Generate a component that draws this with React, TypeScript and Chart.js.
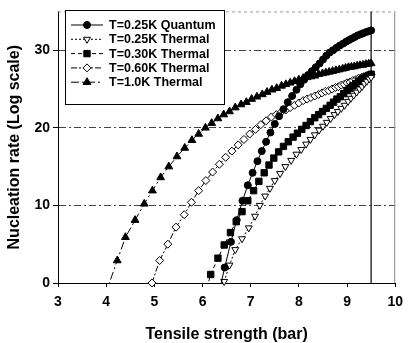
import React, { useEffect, useRef } from 'react';
import { Chart, registerables } from 'chart.js';

Chart.register(...registerables);

const FONT = "'Liberation Sans', Arial, Helvetica, sans-serif";

// T=0.25K Quantum (filled circles)
const xQuantum = [6.33, 6.46, 6.59, 6.71, 6.83, 6.94, 7.04, 7.14, 7.23, 7.32, 7.41, 7.5, 7.59, 7.68, 7.77, 7.86, 7.95, 8.03, 8.11, 8.19, 8.27, 8.35, 8.43, 8.5, 8.57, 8.64, 8.71, 8.78, 8.85, 8.92, 8.98, 9.04, 9.1, 9.16, 9.22, 9.28, 9.34, 9.4, 9.45, 9.5];
const yQuantum = [-1.6, 2.0, 5.3, 8.1, 10.6, 12.6, 14.2, 15.7, 17.0, 18.2, 19.4, 20.5, 21.5, 22.4, 23.3, 24.1, 24.9, 25.6, 26.2, 26.8, 27.3, 27.8, 28.3, 28.8, 29.3, 29.7, 30.0, 30.3, 30.6, 30.85, 31.1, 31.3, 31.5, 31.7, 31.9, 32.05, 32.2, 32.35, 32.45, 32.55];

// T=0.25K Thermal (open down-triangles)
const xThermal025 = [6.45, 6.56, 6.68, 6.82, 6.96, 7.09, 7.19, 7.3, 7.4, 7.5, 7.61, 7.72, 7.84, 7.95, 8.05, 8.15, 8.24, 8.33, 8.42, 8.5, 8.58, 8.66, 8.74, 8.81, 8.88, 8.95, 9.02, 9.08, 9.14, 9.2, 9.26, 9.31, 9.36, 9.41, 9.46, 9.5];
const yThermal025 = [0.2, 2.3, 4.3, 5.7, 7.1, 8.6, 10.0, 11.2, 12.2, 13.2, 14.1, 15.0, 15.8, 16.6, 17.2, 17.9, 18.5, 19.1, 19.7, 20.2, 20.7, 21.2, 21.7, 22.1, 22.5, 22.9, 23.4, 23.8, 24.2, 24.6, 25.0, 25.3, 25.7, 26.0, 26.3, 26.5];

// T=0.30K Thermal (filled squares)
const xThermal030 = [6.05, 6.17, 6.32, 6.45, 6.58, 6.7, 6.82, 6.94, 7.06, 7.17, 7.28, 7.38, 7.48, 7.58, 7.68, 7.78, 7.88, 7.97, 8.06, 8.15, 8.24, 8.33, 8.41, 8.49, 8.57, 8.65, 8.72, 8.79, 8.86, 8.93, 9.0, 9.06, 9.12, 9.18, 9.24, 9.3, 9.35, 9.4, 9.45, 9.5];
const yThermal030 = [-1.5, 1.1, 3.2, 4.9, 6.5, 7.9, 9.2, 10.6, 11.9, 13.1, 14.2, 15.2, 16.1, 16.9, 17.6, 18.2, 18.8, 19.3, 19.8, 20.3, 20.8, 21.3, 21.7, 22.1, 22.5, 22.9, 23.3, 23.7, 24.0, 24.4, 24.8, 25.1, 25.4, 25.7, 26.0, 26.2, 26.4, 26.6, 26.75, 26.9];

// T=0.60K Thermal (open diamonds)
const xThermal060 = [4.95, 5.11, 5.28, 5.45, 5.62, 5.77, 5.92, 6.07, 6.21, 6.35, 6.48, 6.61, 6.74, 6.86, 6.98, 7.1, 7.21, 7.32, 7.43, 7.53, 7.63, 7.73, 7.82, 7.91, 8.0, 8.09, 8.17, 8.25, 8.33, 8.41, 8.48, 8.55, 8.62, 8.69, 8.76, 8.82, 8.88, 8.94, 9.0, 9.06, 9.12, 9.18, 9.24, 9.3, 9.35, 9.4, 9.45, 9.5];
const yThermal060 = [0, 2.9, 5.0, 7.2, 8.8, 10.4, 11.9, 13.2, 14.3, 15.3, 16.2, 17.0, 17.8, 18.5, 19.2, 19.8, 20.4, 20.9, 21.4, 21.7, 22.0, 22.3, 22.6, 22.9, 23.2, 23.5, 23.7, 23.9, 24.1, 24.3, 24.5, 24.7, 24.8, 25.0, 25.2, 25.3, 25.5, 25.6, 25.8, 25.9, 26.1, 26.2, 26.4, 26.5, 26.6, 26.7, 26.8, 26.9];

// T=1.0K Thermal (filled up-triangles)
const xThermal100 = [3.98, 4.23, 4.4, 4.6, 4.79, 4.96, 5.13, 5.3, 5.47, 5.63, 5.78, 5.92, 6.06, 6.19, 6.32, 6.44, 6.56, 6.68, 6.8, 6.91, 7.02, 7.13, 7.24, 7.34, 7.44, 7.54, 7.64, 7.73, 7.82, 7.91, 8.0, 8.09, 8.17, 8.25, 8.33, 8.41, 8.49, 8.56, 8.63, 8.7, 8.77, 8.84, 8.91, 8.97, 9.03, 9.09, 9.15, 9.21, 9.27, 9.33, 9.39, 9.45, 9.5];
const yThermal100 = [-1.5, 2.9, 5.9, 8.1, 10.2, 11.9, 13.6, 15.0, 16.3, 17.4, 18.4, 19.2, 20.0, 20.6, 21.2, 21.7, 22.1, 22.6, 23.0, 23.3, 23.7, 24.0, 24.3, 24.6, 24.9, 25.1, 25.4, 25.6, 25.8, 26.0, 26.2, 26.4, 26.5, 26.6, 26.7, 26.9, 27.0, 27.1, 27.2, 27.3, 27.4, 27.5, 27.6, 27.7, 27.8, 27.85, 27.9, 28.0, 28.05, 28.1, 28.2, 28.25, 28.3];

const seriesLabels = ['T=0.25K Quantum', 'T=0.25K Thermal', 'T=0.30K Thermal', 'T=0.60K Thermal', 'T=1.0K Thermal'];
const limitX = [9.5, 9.5];
const limitY = [0, 35];

const X_MIN = 3, X_MAX = 10, Y_MIN = 0, Y_MAX = 35;

const pts = (xs: number[], ys: number[]) => xs.map((x, i) => ({ x, y: ys[i] }));

function drawMarker(ctx: CanvasRenderingContext2D, style: string, rot: number, x: number, y: number, r: number) {
  ctx.beginPath();
  if (style === 'circle') {
    ctx.arc(x, y, r, 0, Math.PI * 2);
  } else if (style === 'rect') {
    const s = r * Math.SQRT1_2;
    ctx.rect(x - s, y - s, 2 * s, 2 * s);
  } else if (style === 'rectRot') {
    ctx.moveTo(x - r, y); ctx.lineTo(x, y - r); ctx.lineTo(x + r, y); ctx.lineTo(x, y + r); ctx.closePath();
  } else if (style === 'triangle') {
    let a = (rot * Math.PI) / 180;
    ctx.moveTo(x + Math.sin(a) * r, y - Math.cos(a) * r);
    a += (2 * Math.PI) / 3;
    ctx.lineTo(x + Math.sin(a) * r, y - Math.cos(a) * r);
    a += (2 * Math.PI) / 3;
    ctx.lineTo(x + Math.sin(a) * r, y - Math.cos(a) * r);
    ctx.closePath();
  }
  ctx.fill();
  ctx.stroke();
}

const framePlugin = {
  id: 'frame',
  beforeDatasetsDraw(chart: any) {
    const { ctx, chartArea: a } = chart;
    ctx.save();
    ctx.lineWidth = 1;
    ctx.strokeStyle = '#9a9a9a';
    ctx.setLineDash([3, 3]);
    ctx.beginPath();
    ctx.moveTo(a.left, a.top + 0.5);
    ctx.lineTo(a.right, a.top + 0.5);
    ctx.stroke();
    ctx.setLineDash([]);
    ctx.strokeStyle = '#8a8a8a';
    ctx.beginPath();
    ctx.moveTo(a.right - 0.5, a.top);
    ctx.lineTo(a.right - 0.5, a.bottom);
    ctx.stroke();
    ctx.restore();
  },
};

const legendPlugin = {
  id: 'insideLegend',
  afterDraw(chart: any) {
    const ctx: CanvasRenderingContext2D = chart.ctx;
    const bx = 65.5, by = 10.5, bw = 159, bh = 94;
    ctx.save();
    ctx.fillStyle = '#fff';
    ctx.fillRect(bx, by, bw, bh);
    ctx.strokeStyle = '#000';
    ctx.lineWidth = 1;
    ctx.setLineDash([]);
    ctx.strokeRect(bx, by, bw, bh);
    const sets = chart.data.datasets.filter((d: any) => d.label);
    sets.forEach((d: any, i: number) => {
      const y = 25 + i * 14.3;
      ctx.strokeStyle = '#000';
      ctx.lineWidth = 1;
      ctx.setLineDash(d.borderDash || []);
      ctx.beginPath();
      ctx.moveTo(71, y);
      ctx.lineTo(103, y);
      ctx.stroke();
      ctx.setLineDash([]);
      ctx.fillStyle = d.pointBackgroundColor;
      drawMarker(ctx, d.pointStyle, d.pointRotation || 0, 87, y, d.pointRadius);
      ctx.fillStyle = '#000';
      ctx.font = `bold 12.5px ${FONT}`;
      ctx.textBaseline = 'middle';
      ctx.textAlign = 'left';
      ctx.fillText(d.label, 109, y + 0.5);
    });
    ctx.restore();
  },
};

export default function App() {
  const ref = useRef<HTMLCanvasElement>(null);
  useEffect(() => {
    if (!ref.current) return;
    const common = { borderColor: '#000', borderWidth: 1, pointBorderColor: '#000', pointBorderWidth: 1, showLine: true, fill: false, tension: 0 };
    const chart = new Chart(ref.current, {
      type: 'scatter',
      data: {
        datasets: [
          { ...common, label: seriesLabels[0], data: pts(xQuantum, yQuantum), pointStyle: 'circle', pointRadius: 3.5, pointBackgroundColor: '#000', borderDash: [] },
          { ...common, label: seriesLabels[1], data: pts(xThermal025, yThermal025), pointStyle: 'triangle', pointRotation: 180, pointRadius: 4, pointBackgroundColor: '#fff', borderDash: [2, 2], clip: 6 },
          { ...common, label: seriesLabels[2], data: pts(xThermal030, yThermal030), pointStyle: 'rect', pointRadius: 4.5, pointBackgroundColor: '#000', borderDash: [4, 3] },
          { ...common, label: seriesLabels[3], data: pts(xThermal060, yThermal060), pointStyle: 'rectRot', pointRadius: 4, pointBackgroundColor: '#fff', borderDash: [6, 2, 2, 2], clip: 6 },
          { ...common, label: seriesLabels[4], data: pts(xThermal100, yThermal100), pointStyle: 'triangle', pointRadius: 4.5, pointBackgroundColor: '#000', borderDash: [8, 3, 2, 3] },
          { label: '', data: pts(limitX, limitY), borderColor: '#000', borderWidth: 1.2, pointRadius: 0, showLine: true, fill: false } as any,
        ] as any,
      },
      options: {
        responsive: false,
        animation: false,
        devicePixelRatio: 1,
        layout: { padding: { top: 4, right: 8, left: 0, bottom: 0 } },
        plugins: { legend: { display: false }, tooltip: { enabled: false } },
        scales: {
          x: {
            type: 'linear',
            min: X_MIN,
            max: X_MAX,
            afterFit: (s: any) => { s.height = 60; },
            ticks: { stepSize: 1, color: '#000', padding: 7, font: { family: FONT, size: 14, weight: 'bold' } },
            grid: { color: 'rgba(0,0,0,0)', tickColor: '#000', tickLength: 4, drawOnChartArea: false },
            border: { display: true, color: '#000', width: 1 },
            title: { display: true, text: 'Tensile strength (bar)', color: '#000', padding: { top: 0, bottom: 0 }, font: { family: FONT, size: 16, weight: 'bold', lineHeight: 1.05 } },
          },
          y: {
            type: 'linear',
            min: Y_MIN,
            max: Y_MAX,
            afterFit: (s: any) => { s.width = 58; },
            ticks: { stepSize: 10, includeBounds: false, color: '#000', padding: 3, font: { family: FONT, size: 14, weight: 'bold' } },
            grid: {
              color: (c: any) => (c.tick && c.tick.value === 0 ? 'rgba(0,0,0,0)' : '#444'),
              tickColor: '#000',
              tickLength: 5,
              tickBorderDash: [],
              lineWidth: 1,
            },
            border: { display: true, color: '#000', width: 1, dash: [7, 3, 2, 3] },
            title: { display: true, text: 'Nucleation rate (Log scale)', color: '#000', padding: { top: 5, bottom: 0 }, font: { family: FONT, size: 16, weight: 'bold' } },
          },
        },
      } as any,
      plugins: [framePlugin, legendPlugin],
    });
    return () => chart.destroy();
  }, []);
  return (
    <div style={{ position: 'absolute', left: 0, top: 0, width: 410, height: 343, background: '#fff' }}>
      <canvas ref={ref} width={410} height={343} style={{ width: 410, height: 343, display: 'block' }} />
    </div>
  );
}
